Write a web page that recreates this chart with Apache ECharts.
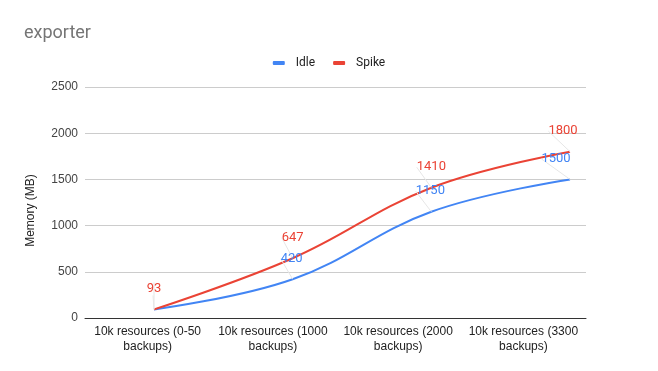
<!DOCTYPE html>
<html><head><meta charset="utf-8">
<script src="https://cdn.jsdelivr.net/npm/echarts@6/dist/echarts.min.js"></script>
<style>html,body{margin:0;padding:0;background:#fff}#c{width:658px;height:371px}</style>
</head><body><div id="c"></div>
<script>
const categories = ["10k resources (0-50\nbackups)", "10k resources (1000\nbackups)", "10k resources (2000\nbackups)", "10k resources (3300\nbackups)"];
const idle = [93, 420, 1150, 1500];
const spike = [93, 647, 1410, 1800];
const yTicks = [0, 500, 1000, 1500, 2000, 2500];

const chart = echarts.init(document.getElementById('c'), null, {renderer: 'canvas'});
const labelBase = {show: true, position: 'top', distance: 14, fontSize: 13, fontFamily: 'Roboto'};
chart.setOption({
  animation: false,
  title: {text: 'exporter', left: 19, top: 19, textStyle: {fontFamily: 'Roboto', fontSize: 18, fontWeight: 'normal', color: '#757575'}},
  legend: {top: 52, left: 'center', itemWidth: 12, itemHeight: 4, itemGap: 18, icon: 'roundRect',
    textStyle: {fontFamily: 'Roboto', fontSize: 12, color: '#222', padding: [0, 0, 0, 6]}, data: ['Idle', 'Spike']},
  grid: [
    {left: 85, right: 72, top: 87, bottom: 53},
    {left: 154, right: 88, top: 87, bottom: 53}
  ],
  xAxis: [
    {type: 'category', gridIndex: 0, data: categories, boundaryGap: true,
      axisLine: {lineStyle: {color: '#333', width: 1}}, axisTick: {show: false},
      axisLabel: {fontFamily: 'Liberation Sans', fontSize: 12, color: '#222', lineHeight: 15, margin: 6, interval: 0}},
    {type: 'category', gridIndex: 1, data: categories, boundaryGap: false, show: false}
  ],
  yAxis: [
    {type: 'value', gridIndex: 0, min: 0, max: 2500, interval: 500, name: 'Memory (MB)', nameLocation: 'middle', nameGap: 48,
      nameTextStyle: {fontFamily: 'Liberation Sans', fontSize: 12, color: '#222', padding: [0, 16, 0, 0]},
      axisLine: {show: false}, axisTick: {show: false},
      axisLabel: {fontFamily: 'Liberation Sans', fontSize: 12, color: '#444', margin: 7,
        formatter: v => yTicks.includes(v) ? String(v) : ''},
      splitLine: {lineStyle: {color: '#ccc'}}},
    {type: 'value', gridIndex: 1, min: 0, max: 2500, interval: 500, show: false, splitLine: {show: false}}
  ],
  series: [
    {name: 'Idle', type: 'line', xAxisIndex: 1, yAxisIndex: 1, data: idle, smooth: 0.4,
      symbol: 'circle', symbolSize: 0, showSymbol: true, lineStyle: {width: 2, color: '#4285F4'}, itemStyle: {color: '#4285F4'},
      label: Object.assign({}, labelBase, {color: '#4285F4', formatter: p => p.dataIndex === 0 ? '' : String(p.value)}),
      labelLine: {show: true, lineStyle: {color: '#e6e6e6', width: 1}},
      labelLayout: p => ({dx: p.dataIndex === 3 ? -14 : -1})},
    {name: 'Spike', type: 'line', xAxisIndex: 1, yAxisIndex: 1, data: spike, smooth: 0.4,
      symbol: 'circle', symbolSize: 0, showSymbol: true, lineStyle: {width: 2, color: '#EA4335'}, itemStyle: {color: '#EA4335'},
      label: Object.assign({}, labelBase, {color: '#EA4335'}),
      labelLine: {show: true, lineStyle: {color: '#e6e6e6', width: 1}},
      labelLayout: p => ({dx: p.dataIndex === 3 ? -7 : 0})}
  ]
});
</script></body></html>
